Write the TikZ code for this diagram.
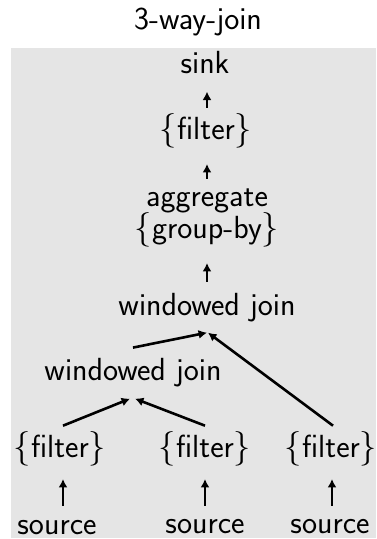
\documentclass[tikz,border=0pt]{standalone}
\usetikzlibrary{arrows.meta,calc}
\begin{document}
\begin{tikzpicture}[x=0.5pt,y=-0.5pt,
  lbl/.style={font=\fontsize{16}{19}\selectfont\sffamily, inner sep=0pt, anchor=base},
  flow/.style={-{Latex[length=4.2pt,width=4.5pt]}, line width=1.3pt},
]
\useasboundingbox (0,0) rectangle (376,539);
\fill[gray!20] (11,48) rectangle (376,538);

% title
\node[lbl] (title) at (198,30) {3-way-join};

% operator chain
\node[lbl] (sink) at (205,74)  {sink};
\node[lbl] (f1)   at (206,140) {$\{$filter$\}$};
\node[lbl] (agg)  at (207,207) {aggregate};
\node[lbl] (gby)  at (207,239) {$\{$group-by$\}$};
\node[lbl] (wjt)  at (207,315) {windowed join};
\node[lbl] (wjl)  at (133,380) {windowed join};
\node[lbl] (fl)   at (60,457)  {$\{$filter$\}$};
\node[lbl] (fm)   at (205,457) {$\{$filter$\}$};
\node[lbl] (fr)   at (331,457) {$\{$filter$\}$};
\node[lbl] (sl)   at (57,534.5) {source};
\node[lbl] (sm)   at (205,533) {source};
\node[lbl] (sr)   at (330,533) {source};

% data flow
\draw[flow] ($(f1.north)+(1,-6)$) -- ($(f1.north |- sink.south)+(1,17)$);
\draw[flow] ($(agg.north)+(0,-10)$) -- ($(agg.north |- f1.south)+(0,15)$);
\draw[flow] ($(wjt.north)+(0,-10.8)$) -- ($(wjt.north |- gby.south)+(0,15)$);
\draw[flow] ($(wjl.north)+(0,-9.8)$) -- ($(wjt.south)+(0,10.8)$);
\draw[flow] ($(fr.north)+(2,-5)$) -- ($(wjt.south)+(1,10.8)$);
\draw[flow] ($(fl.north)+(3,-5)$) -- ($(wjl.south)+(-3,11.8)$);
\draw[flow] ($(fm.north)+(0,-5)$) -- ($(wjl.south)+(2,11.8)$);
\draw[flow] ($(sl.north -| fl.south)+(3,-14.3)$) -- ($(fl.south)+(3,13)$);
\draw[flow] ($(sm.north)+(0,-12.8)$) -- ($(sm.north |- fm.south)+(0,13)$);
\draw[flow] ($(sr.north -| fr.south)+(1,-12.8)$) -- ($(fr.south)+(1,13)$);
\end{tikzpicture}
\end{document}
